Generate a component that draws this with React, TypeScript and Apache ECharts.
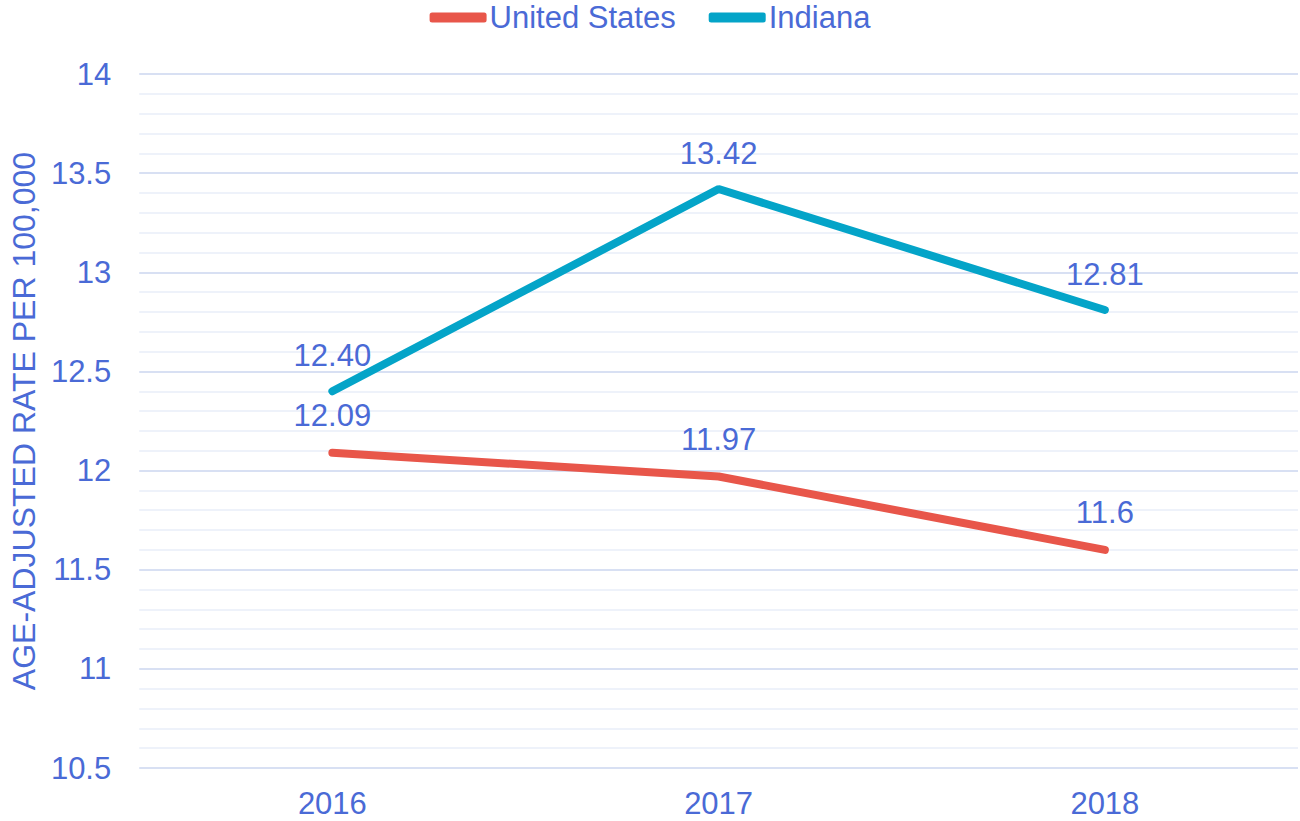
import React, { useEffect, useRef } from "react";
import * as echarts from "echarts";

const years = ["2016", "2017", "2018"];
const usValues = [12.09, 11.97, 11.6];
const usLabels = ["12.09", "11.97", "11.6"];
const inValues = [12.4, 13.42, 12.81];
const inLabels = ["12.40", "13.42", "12.81"];

const TEXT = "#4A6AD6";
const FONT = "Liberation Sans, Arial, sans-serif";
const FS = 31;

export default function App() {
  const ref = useRef<HTMLDivElement>(null);
  useEffect(() => {
    const chart = echarts.init(ref.current!, null, { renderer: "svg" });
    chart.setOption({
      animation: false,
      textStyle: { fontFamily: FONT },
      legend: {
        top: -3,
        left: "center",
        itemWidth: 57,
        itemHeight: 10,
        itemGap: 33,
        icon: "roundRect",
        textStyle: { color: TEXT, fontSize: FS, fontFamily: FONT, padding: [0, 0, 0, -2] },
        data: ["United States", "Indiana"],
      },
      grid: { left: 133, right: 2, top: 74, bottom: 53 },
      xAxis: {
        type: "category",
        data: years,
        boundaryGap: true,
        axisLine: { show: false },
        axisTick: { show: false },
        axisLabel: { color: TEXT, fontSize: FS, margin: 20, fontFamily: FONT },
      },
      yAxis: {
        type: "value",
        min: 10.5,
        max: 14,
        interval: 0.5,
        name: "AGE-ADJUSTED RATE PER 100,000",
        nameLocation: "middle",
        nameGap: 98,
        nameTextStyle: { color: TEXT, fontSize: 32, fontFamily: FONT },
        axisLine: { show: false },
        axisTick: { show: false },
        axisLabel: {
          color: TEXT,
          fontSize: FS,
          margin: 28,
          fontFamily: FONT,
          formatter: (v: number) => String(v),
        },
        splitLine: { lineStyle: { color: "#D8E0F3", width: 2 } },
        minorTick: { show: false, splitNumber: 5 },
        minorSplitLine: { show: true, lineStyle: { color: "#EEF2FA", width: 2 } },
      },
      series: [
        {
          name: "United States",
          type: "line",
          data: usValues,
          symbol: "circle",
          symbolSize: 0,
          showSymbol: true,
          color: "#E8564A",
          lineStyle: { width: 8, color: "#E8564A", cap: "round" },
          label: {
            show: true,
            position: "top",
            distance: 22,
            color: TEXT,
            fontSize: FS,
            fontFamily: FONT,
            formatter: (p: any) => usLabels[p.dataIndex],
          },
        },
        {
          name: "Indiana",
          type: "line",
          data: inValues,
          symbol: "circle",
          symbolSize: 0,
          showSymbol: true,
          color: "#04A4C8",
          lineStyle: { width: 8, color: "#04A4C8", cap: "round" },
          label: {
            show: true,
            position: "top",
            distance: 20,
            color: TEXT,
            fontSize: FS,
            fontFamily: FONT,
            formatter: (p: any) => inLabels[p.dataIndex],
          },
        },
      ],
    });
    return () => chart.dispose();
  }, []);
  return (
    <div
      ref={ref}
      style={{ position: "absolute", left: 0, top: 0, width: 1300, height: 821 }}
    />
  );
}
